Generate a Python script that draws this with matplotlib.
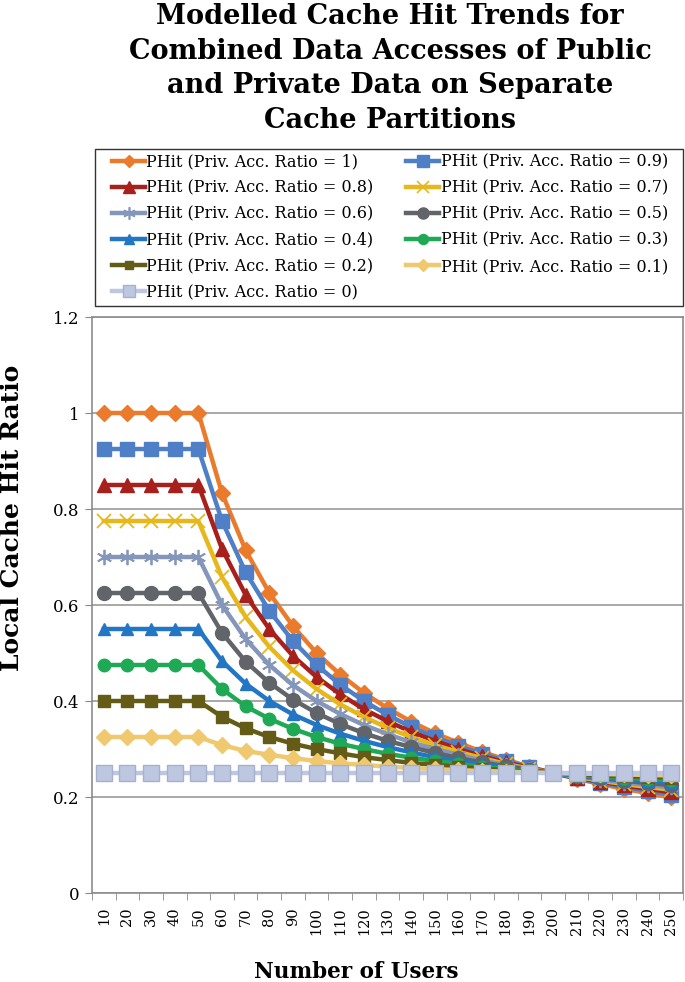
import numpy as np
import matplotlib
matplotlib.use("Agg")
import matplotlib.pyplot as plt
from matplotlib.lines import Line2D
from matplotlib.patches import Rectangle
from matplotlib.legend_handler import HandlerLine2D

users = [10, 20, 30, 40, 50, 60, 70, 80, 90, 100, 110, 120, 130,
         140, 150, 160, 170, 180, 190, 200, 210, 220, 230, 240, 250]

hit_10 = [1, 1, 1, 1, 1, .833, .714, .625, .556, .5, .455, .417, .385,
          .357, .333, .313, .294, .278, .263, .25, .238, .227, .217, .208, .2]
hit_09 = [.925, .925, .925, .925, .925, .775, .668, .588, .525, .475, .434, .4, .371,
          .346, .325, .306, .29, .275, .262, .25, .239, .23, .221, .213, .205]
hit_08 = [.85, .85, .85, .85, .85, .717, .621, .55, .494, .45, .414, .383, .358,
          .336, .317, .3, .285, .272, .261, .25, .24, .232, .224, .217, .21]
hit_07 = [.775, .775, .775, .775, .775, .658, .575, .513, .464, .425, .393, .367, .344,
          .325, .308, .294, .281, .269, .259, .25, .242, .234, .227, .221, .215]
hit_06 = [.7, .7, .7, .7, .7, .6, .529, .475, .433, .4, .373, .35, .331,
          .314, .3, .288, .276, .267, .258, .25, .243, .236, .23, .225, .22]
hit_05 = [.625, .625, .625, .625, .625, .542, .482, .438, .403, .375, .352, .333, .317,
          .304, .292, .281, .272, .264, .257, .25, .244, .239, .234, .229, .225]
hit_04 = [.55, .55, .55, .55, .55, .483, .436, .4, .372, .35, .332, .317, .304,
          .293, .283, .275, .268, .261, .255, .25, .245, .241, .237, .233, .23]
hit_03 = [.475, .475, .475, .475, .475, .425, .389, .363, .342, .325, .311, .3, .29,
          .282, .275, .269, .263, .258, .254, .25, .246, .243, .24, .238, .235]
hit_02 = [.4, .4, .4, .4, .4, .367, .343, .325, .311, .3, .291, .283, .277,
          .271, .267, .263, .259, .256, .253, .25, .248, .245, .243, .242, .24]
hit_01 = [.325, .325, .325, .325, .325, .308, .296, .288, .281, .275, .27, .267, .263,
          .261, .258, .256, .254, .253, .251, .25, .249, .248, .247, .246, .245]
hit_00 = [.25] * 25

ratios = ["1", "0.9", "0.8", "0.7", "0.6", "0.5", "0.4", "0.3", "0.2", "0.1", "0"]
series = [hit_10, hit_09, hit_08, hit_07, hit_06, hit_05, hit_04, hit_03, hit_02, hit_01, hit_00]

styles = [
    ("#EA7A2C", "D", 8, "#EA7A2C"),
    ("#4F7FC6", "s", 10, "#4F7FC6"),
    ("#A8201C", "^", 10, "#A8201C"),
    ("#E6B81E", "x", 10, "#E6B81E"),
    ("#8496BA", "*", 0, "#8496BA"),
    ("#616468", "o", 10, "#616468"),
    ("#2276C4", "^", 9, "#2276C4"),
    ("#1FA955", "o", 9, "#1FA955"),
    ("#645C16", "s", 8, "#645C16"),
    ("#F0C96E", "D", 8, "#F0C96E"),
    ("#BDC7E0", "s", 11, "#A6B1CF"),
]

plt.rcParams["font.family"] = ["DejaVu Serif"]

W, H = 685, 982
fig = plt.figure(figsize=(W / 100, H / 100), dpi=100)
ax = fig.add_axes([92 / W, 1 - 893 / H, (683 - 92) / W, (893 - 317) / H])

x = np.arange(len(users))
handles = []
for i, (vals, r) in enumerate(zip(series, ratios)):
    col, mk, ms, edge = styles[i]
    if mk == "*":
        # asterisk-like marker
        ax.plot(x, vals, color=col, lw=3.2, zorder=2 + i)
        ax.plot(x, vals, ls="none", marker=(6, 2, 0), ms=11, mec=col, mew=1.3, zorder=2 + i)
        h = Line2D([], [], color=col, lw=3.2, marker=(6, 2, 0), ms=9, mec=col, mew=1.2)
    elif mk == "x":
        ax.plot(x, vals, color=col, lw=3.2, marker="x", ms=ms, mec=col, mew=1.3, zorder=2 + i)
        h = Line2D([], [], color=col, lw=3.2, marker="x", ms=8, mec=col, mew=1.2)
    else:
        ax.plot(x, vals, color=col, lw=3.2, marker=mk, ms=ms, mfc=col, mec=edge, mew=1, zorder=2 + i)
        h = Line2D([], [], color=col, lw=3.2, marker=mk, ms=ms * 0.8, mfc=col, mec=edge, mew=1)
    handles.append((h, "PHit (Priv. Acc. Ratio = %s)" % r))

ax.set_xlim(-0.5, len(users) - 0.5)
ax.set_ylim(0, 1.2)
ax.set_yticks(np.arange(0, 1.21, 0.2))
ax.set_yticklabels(["0", "0.2", "0.4", "0.6", "0.8", "1", "1.2"], fontsize=12)
ax.set_xticks(x)
ax.set_xticklabels([str(u) for u in users], rotation=90, fontsize=10.5)
ax.set_xticks(np.arange(-0.5, len(users)), minor=True)
ax.tick_params(axis="x", which="major", length=0, pad=10)
ax.tick_params(axis="x", which="minor", length=5, color="#888888")
ax.tick_params(axis="y", length=5, color="#888888", pad=4)
ax.grid(axis="y", color="#9A9A9A", lw=1.2, zorder=0)
for s in ax.spines.values():
    s.set_color("#8C8C8C")
    s.set_linewidth(1.2)

fig.text(12 / W, 1 - 518 / H, "Local Cache Hit Ratio", rotation=90, ha="center",
         va="center", fontsize=18, fontweight="bold")
fig.text(356 / W, 1 - 972 / H, "Number of Users", ha="center", va="center",
         fontsize=15.5, fontweight="bold")

fig.suptitle("Modelled Cache Hit Trends for\nCombined Data Accesses of Public\n"
             "and Private Data on Separate\nCache Partitions",
             x=390 / W, y=0.997, va="top", fontsize=19.5, fontweight="bold",
             linespacing=1.36)

# legend box drawn separately, entries row-wise in two columns
fig.patches.append(Rectangle((95 / W, 1 - 306 / H), (683 - 95) / W, (306 - 149) / H,
                             transform=fig.transFigure, fill=False,
                             edgecolor="#333333", lw=1.0))
left = [handles[i] for i in (0, 2, 4, 6, 8, 10)]
right = [handles[i] for i in (1, 3, 5, 7, 9)]
order = left + right
leg = fig.legend([h for h, _ in order], [t for _, t in order], ncol=2,
                 loc="upper left", bbox_to_anchor=(95 / W, 1 - 149 / H),
                 fontsize=11.5, frameon=False, handlelength=2.84,
                 handletextpad=0.1, labelspacing=0.57, borderaxespad=0,
                 borderpad=0.28, columnspacing=1.25,
                 handler_map={Line2D: HandlerLine2D(xpad=0.8)})

plt.savefig("out.png", dpi=100)
